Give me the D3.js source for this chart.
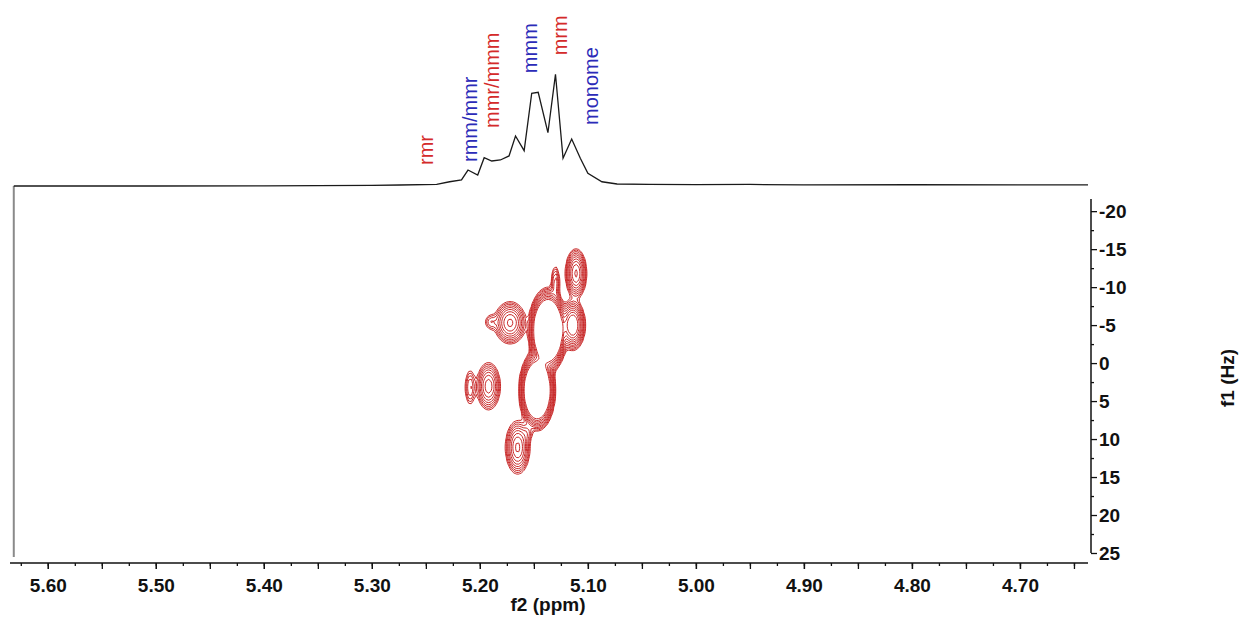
<!DOCTYPE html>
<html>
<head>
<meta charset="utf-8">
<script src="https://cdn.jsdelivr.net/npm/d3@7"></script>
<style>
body { margin: 0; background: #fff; }
text { font-family: "Liberation Sans", Arial, sans-serif; }
</style>
</head>
<body>
<script>
'use strict';

// 1D projection (f2 trace), ppm vs relative intensity
var specPpm = [5.6315, 5.50, 5.40, 5.30, 5.274, 5.240, 5.228, 5.217, 5.211, 5.202, 5.196, 5.189, 5.181,
	5.173, 5.167, 5.159, 5.152, 5.146, 5.137, 5.130, 5.123, 5.115, 5.107, 5.100, 5.087, 5.073,
	5.043, 5.00, 4.95, 4.90, 4.80, 4.70, 4.637];
var specInt = [0, 0, 0.2, 0.5, 0.9, 1.5, 3.8, 5.4, 14.3, 9.8, 25.3, 22.4, 23.3,
	26.9, 44.8, 31.6, 83.0, 83.9, 47.7, 100, 24.8, 42.1, 24.8, 11.4, 3.8, 1.8,
	1.5, 1.2, 1.4, 1.0, 1.1, 1.0, 1.0];

// peak assignments
var peakLabels = ["rmr", "rmm/mmr", "mmr/mmm", "mmm", "mrm", "monome"];
var labelPpm = [5.2435, 5.2028, 5.1824, 5.1472, 5.1194, 5.0907];
var labelInt = [18.8, 21.5, 51.9, 101, 117, 54.6];
var labelColor = ["#d42a2a", "#2b2bb8", "#d42a2a", "#2b2bb8", "#d42a2a", "#2b2bb8"];

// 2D cross peaks: position (ppm, Hz), widths (ppm, Hz), amplitude
var peakPpm   = [5.111, 5.130, 5.137, 5.114, 5.172, 5.190, 5.147, 5.192, 5.209, 5.165, 5.156];
var peakHz    = [-11.8, -10.6, -4.3, -5.0, -5.3, -5.4, 3.6, 3.05, 3.2, 11.1, 9.2];
var peakWPpm  = [0.0042, 0.0022, 0.0055, 0.0046, 0.0066, 0.0037, 0.0052, 0.0051, 0.0028, 0.0051, 0.0028];
var peakWHz   = [1.38, 1.25, 1.70, 1.32, 1.25, 0.66, 1.64, 1.45, 1.38, 1.58, 0.66];
var peakAmp   = [16, 4, 260, 25, 12, 2.2, 200, 10, 3.5, 12, 2];
var contourLevels = [1, 1.35, 1.82, 2.46, 3.32, 4.48, 6.05, 8.17, 11.0, 14.9];

// axis ticks
var xTicks = [5.60, 5.50, 5.40, 5.30, 5.20, 5.10, 5.00, 4.90, 4.80, 4.70];
var yTicks = [-20, -15, -10, -5, 0, 5, 10, 15, 20, 25];

var width = 1241;
var height = 618;

var svg = d3.select("body").append("svg")
	.attr("width", width)
	.attr("height", height);

// scales
var x = d3.scaleLinear().domain([5.635, 4.637]).range([10, 1088]);
var yHz = d3.scaleLinear().domain([-21.6, 25]).range([199, 553]);
var yInt = d3.scaleLinear().domain([0, 100]).range([186, 74.3]);

// left edge of the 1D trace
svg.append("line")
	.attr("x1", x(5.6315)).attr("x2", x(5.6315))
	.attr("y1", yInt(0)).attr("y2", yHz(25) + 4)
	.style("stroke", "#8a8a8a")
	.style("stroke-width", 2);

// 1D spectrum
var line = d3.line()
	.x(function (d, i) { return x(specPpm[i]); })
	.y(function (d) { return yInt(d); });

svg.append("path")
	.datum(specInt)
	.attr("d", line)
	.style("fill", "none")
	.style("stroke", "#1a1a1a")
	.style("stroke-width", 1.3);

// assignment labels
svg.selectAll(".plabel")
	.data(peakLabels)
	.enter()
	.append("text")
	.attr("class", "plabel")
	.attr("transform", function (d, i) {
		return "translate(" + x(labelPpm[i]) + "," + yInt(labelInt[i]) + ") rotate(-90)";
	})
	.style("font-size", "20px")
	.style("fill", function (d, i) { return labelColor[i]; })
	.text(function (d) { return d; });

// 2D contour map, sampled on a coarse grid like the original plot
var step = 2.5;
var gx0 = 440, gy0 = 220, gw = 80, gh = 112;
var values = new Float64Array(gw * gh);
for (var j = 0; j < gh; j++) {
	var hz = yHz.invert(gy0 + (j + 0.5) * step);
	for (var i = 0; i < gw; i++) {
		var ppm = x.invert(gx0 + (i + 0.5) * step);
		var v = 0;
		for (var k = 0; k < peakPpm.length; k++) {
			var dx = (ppm - peakPpm[k]) / peakWPpm[k];
			var dy = (hz - peakHz[k]) / peakWHz[k];
			v += peakAmp[k] * Math.exp(-0.5 * (dx * dx + dy * dy));
		}
		values[j * gw + i] = v;
	}
}

var contours = d3.contours()
	.size([gw, gh])
	.thresholds(contourLevels)(values);

var gridPath = d3.geoPath(d3.geoIdentity().scale(step).translate([gx0, gy0]));

svg.append("g")
	.selectAll("path")
	.data(contours)
	.enter()
	.append("path")
	.attr("d", gridPath)
	.style("fill", "none")
	.style("stroke", "#c92a2a")
	.style("stroke-width", 1);

// x axis (f2)
var xAxisY = 563;
var minorX = d3.range(0, 40).map(function (i) { return 5.625 - i * 0.025; })
	.filter(function (d) { return d > 4.64; });

var xMinor = svg.append("g")
	.attr("transform", "translate(0," + xAxisY + ")")
	.call(d3.axisBottom(x)
		.tickValues(minorX)
		.tickSize(3)
		.tickFormat(""));

var xMid = svg.append("g")
	.attr("transform", "translate(0," + xAxisY + ")")
	.call(d3.axisBottom(x)
		.tickValues(minorX.filter(function (d, i) { return i % 2 == 1; }))
		.tickSize(6)
		.tickFormat(""));

var xMajor = svg.append("g")
	.attr("transform", "translate(0," + xAxisY + ")")
	.call(d3.axisBottom(x)
		.tickValues(xTicks)
		.tickSize(6)
		.tickPadding(10)
		.tickFormat(d3.format(".2f")));

svg.selectAll(".domain").style("stroke", "#111").style("stroke-width", 1.5);
xMinor.select(".domain").attr("d", "M10,0H1088");
xMid.select(".domain").remove();
xMajor.select(".domain").remove();

xMajor.selectAll("text")
	.style("font-size", "19px")
	.style("font-weight", "bold")
	.style("fill", "#111")
	.style("font-family", "'Liberation Sans', Arial, sans-serif");

svg.append("text")
	.attr("x", 548)
	.attr("y", 611)
	.attr("text-anchor", "middle")
	.style("font-size", "19px")
	.style("font-weight", "bold")
	.style("fill", "#111")
	.text("f2 (ppm)");

// y axis (f1)
var yAxisX = 1091;
var minorY = d3.range(-17.5, 25, 5);

var yMinor = svg.append("g")
	.attr("transform", "translate(" + yAxisX + ",0)")
	.call(d3.axisRight(yHz)
		.tickValues(minorY)
		.tickSize(3)
		.tickFormat(""));

var yMajor = svg.append("g")
	.attr("transform", "translate(" + yAxisX + ",0)")
	.call(d3.axisRight(yHz)
		.tickValues(yTicks)
		.tickSize(6)
		.tickPadding(2)
		.tickFormat(function (d) { return String(d); }));

yMinor.select(".domain").attr("d", "M0," + yHz(-21.6) + "V" + yHz(25))
	.style("stroke", "#111").style("stroke-width", 1.5);
yMajor.select(".domain").remove();

yMajor.selectAll("text")
	.style("font-size", "19px")
	.style("font-weight", "bold")
	.style("fill", "#111")
	.style("font-family", "'Liberation Sans', Arial, sans-serif");

svg.selectAll(".tick line").style("stroke", "#111").style("stroke-width", 1.3);

svg.append("text")
	.attr("transform", "translate(1234,378) rotate(-90)")
	.attr("text-anchor", "middle")
	.style("font-size", "19px")
	.style("font-weight", "bold")
	.style("fill", "#111")
	.text("f1 (Hz)");
</script>
</body>
</html>
